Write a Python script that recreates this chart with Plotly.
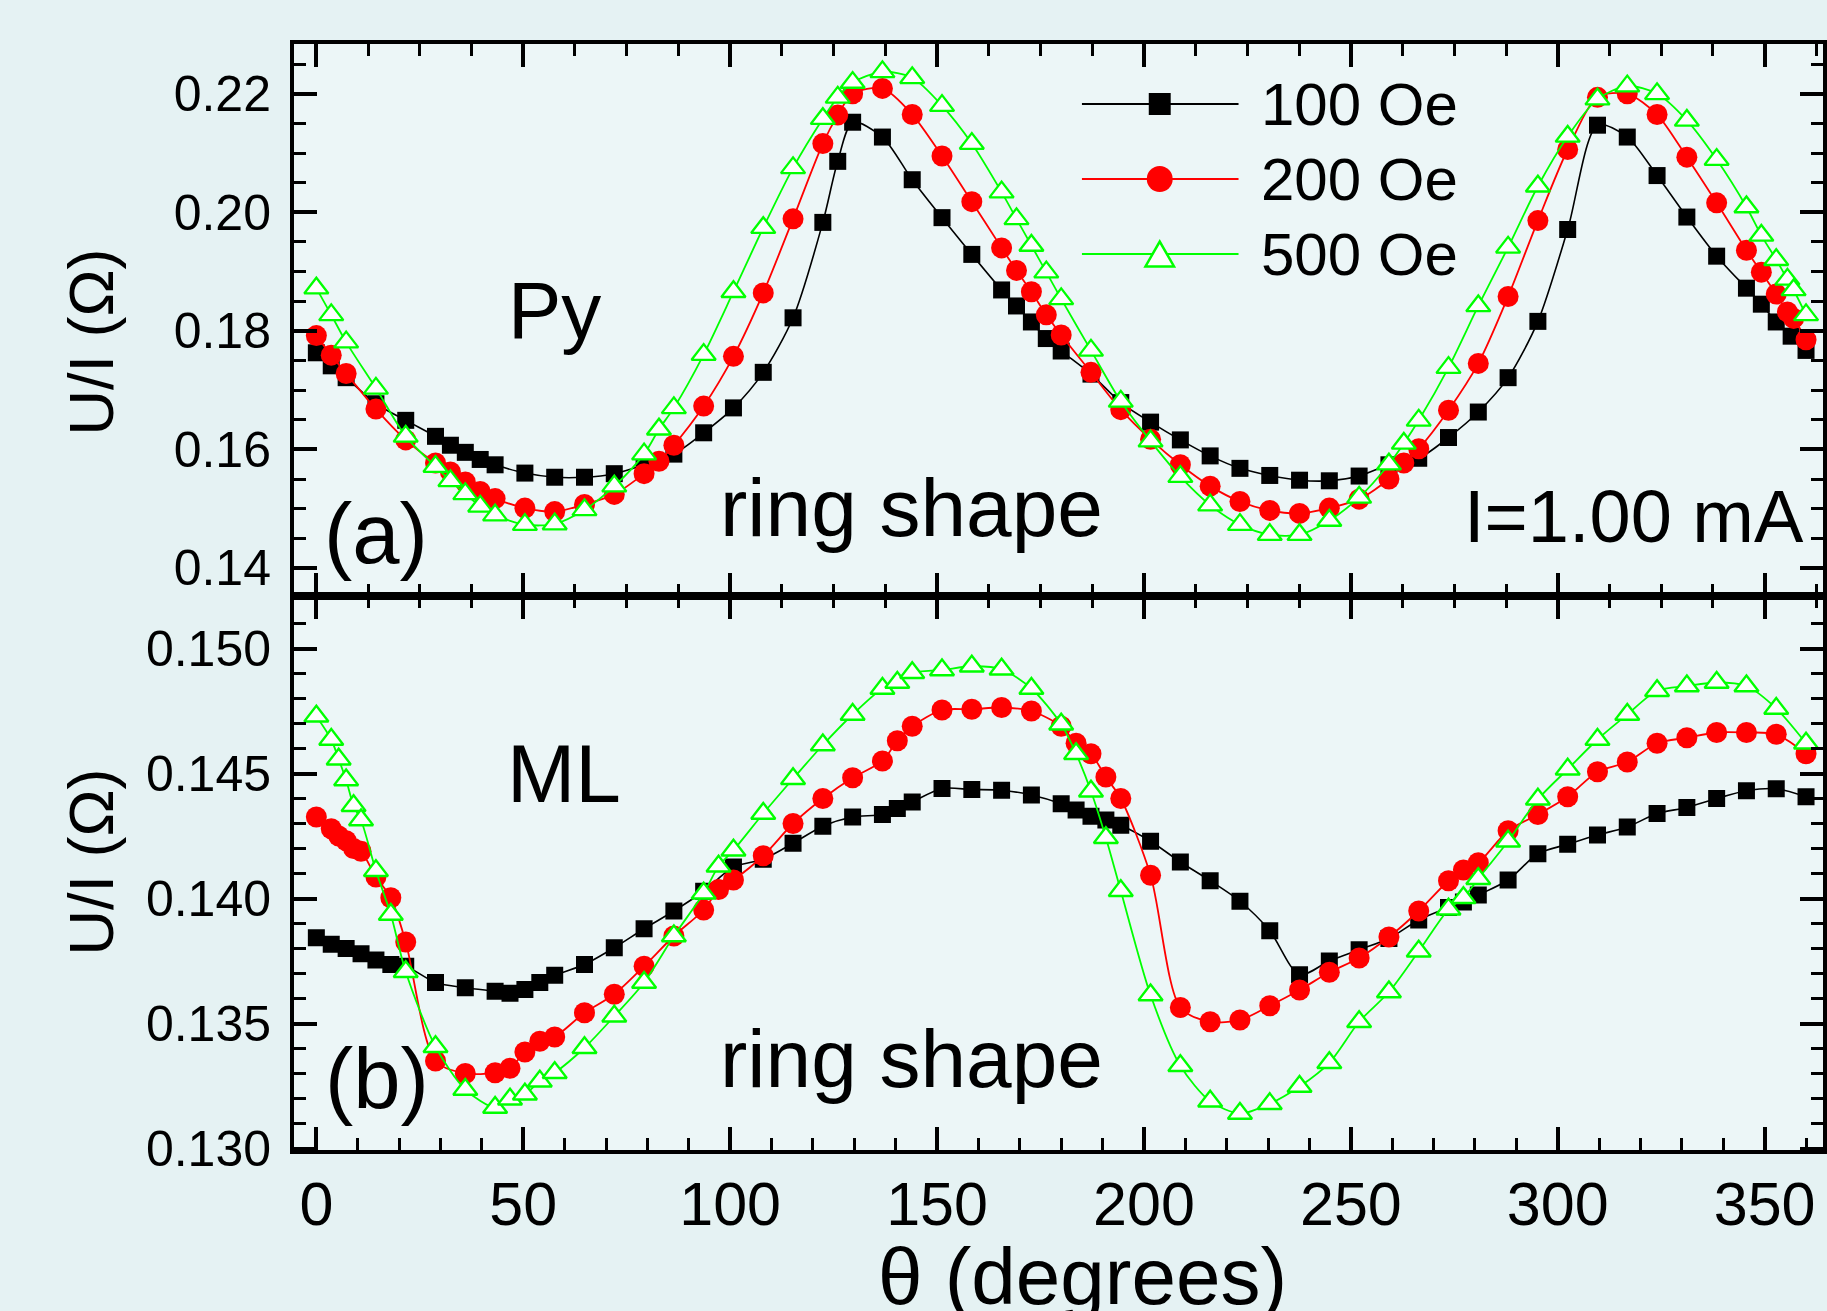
import plotly.graph_objects as go

# ---------------- data: U/I (Ohm) versus field angle theta (degrees) ----------------
# (a) Py ring
theta_py_100 = [0, 3.6, 7.2, 14.4, 21.6, 28.8, 32.4, 36, 39.6, 43.2,
                50.4, 57.6, 64.8, 72, 79.2, 86.4, 93.6, 100.8, 108, 115.2,
                122.4, 126, 129.6, 136.8, 144, 151.2, 158.4, 165.6, 169.2, 172.8,
                176.4, 180, 187.2, 194.4, 201.6, 208.8, 216, 223.2, 230.4, 237.6,
                244.8, 252, 259.2, 266.4, 273.6, 280.8, 288, 295.2, 302.4, 309.6,
                316.8, 324, 331.2, 338.4, 345.6, 349.2, 352.8, 356.4, 360]
ui_py_100 = [0.1763, 0.1741, 0.1721, 0.1677, 0.1649, 0.1622, 0.1607, 0.1595, 0.1583, 0.1574,
             0.1560, 0.1553, 0.1553, 0.1559, 0.1574, 0.1592, 0.1628, 0.1670, 0.1730, 0.1822,
             0.1983, 0.2086, 0.2152, 0.2127, 0.2055, 0.1991, 0.1929, 0.1869, 0.1842, 0.1815,
             0.1787, 0.1766, 0.1727, 0.1679, 0.1646, 0.1616, 0.1589, 0.1568, 0.1556, 0.1548,
             0.1547, 0.1555, 0.1574, 0.1585, 0.1620, 0.1663, 0.1721, 0.1816, 0.1971, 0.2147,
             0.2127, 0.2062, 0.1992, 0.1926, 0.1872, 0.1845, 0.1815, 0.1791, 0.1767]

theta_py_hi = [0, 3.6, 7.2, 14.4, 21.6, 28.8, 32.4, 36, 39.6, 43.2,
               50.4, 57.6, 64.8, 72, 79.2, 82.8, 86.4, 93.6, 100.8, 108,
               115.2, 122.4, 126, 129.6, 136.8, 144, 151.2, 158.4, 165.6, 169.2,
               172.8, 176.4, 180, 187.2, 194.4, 201.6, 208.8, 216, 223.2, 230.4,
               237.6, 244.8, 252, 259.2, 262.8, 266.4, 273.6, 280.8, 288, 295.2,
               302.4, 309.6, 316.8, 324, 331.2, 338.4, 345.6, 349.2, 352.8, 355.5,
               357, 360]
ui_py_200 = [0.1792, 0.1759, 0.1728, 0.1668, 0.1616, 0.1577, 0.1562, 0.1545, 0.1529, 0.1517,
             0.1501, 0.1495, 0.1507, 0.1524, 0.1559, 0.1580, 0.1607, 0.1673, 0.1757, 0.1864,
             0.1989, 0.2116, 0.2164, 0.2200, 0.2209, 0.2165, 0.2095, 0.2018, 0.1940, 0.1902,
             0.1866, 0.1827, 0.1793, 0.1730, 0.1667, 0.1617, 0.1574, 0.1538, 0.1512, 0.1497,
             0.1492, 0.1501, 0.1516, 0.1550, 0.1577, 0.1601, 0.1666, 0.1745, 0.1858, 0.1986,
             0.2106, 0.2194, 0.2200, 0.2165, 0.2093, 0.2016, 0.1936, 0.1899, 0.1862, 0.1832,
             0.1821, 0.1785]
ui_py_500 = [0.1872, 0.1827, 0.1781, 0.1703, 0.1622, 0.1571, 0.1547, 0.1525, 0.1504, 0.1489,
             0.1473, 0.1474, 0.1498, 0.1538, 0.1592, 0.1634, 0.1670, 0.1760, 0.1866, 0.1974,
             0.2075, 0.2158, 0.2194, 0.2219, 0.2237, 0.2227, 0.2180, 0.2116, 0.2034, 0.1989,
             0.1944, 0.1899, 0.1854, 0.1767, 0.1681, 0.1614, 0.1554, 0.1506, 0.1473, 0.1456,
             0.1456, 0.1480, 0.1519, 0.1575, 0.1610, 0.1649, 0.1738, 0.1842, 0.1941, 0.2044,
             0.2128, 0.2191, 0.2213, 0.2200, 0.2155, 0.2089, 0.2009, 0.1961, 0.1920, 0.1887,
             0.1869, 0.1827]

# (b) ML ring
theta_ml_100 = [0, 3.6, 7.2, 10.8, 14.4, 18, 21.6, 28.8, 36, 43.2,
                46.8, 50.4, 54, 57.6, 64.8, 72, 79.2, 86.4, 93.6, 100.8,
                108, 115.2, 122.4, 129.6, 136.8, 140.4, 144, 151.2, 158.4, 165.6,
                172.8, 180, 183.6, 187.2, 190.8, 194.4, 201.6, 208.8, 216, 223.2,
                230.4, 237.6, 244.8, 252, 259.2, 266.4, 273.6, 277.2, 280.8, 288,
                295.2, 302.4, 309.6, 316.8, 324, 331.2, 338.4, 345.6, 352.8, 360]
ui_ml_100 = [0.13843, 0.13817, 0.13800, 0.13779, 0.13754, 0.13736, 0.13729, 0.13664, 0.13643, 0.13629,
             0.13621, 0.13636, 0.13664, 0.13693, 0.13736, 0.13803, 0.13879, 0.13950, 0.14029, 0.14126,
             0.14157, 0.14221, 0.14289, 0.14326, 0.14336, 0.14360, 0.14386, 0.14440, 0.14436, 0.14433,
             0.14414, 0.14379, 0.14354, 0.14329, 0.14314, 0.14293, 0.14229, 0.14146, 0.14071, 0.13989,
             0.13871, 0.13695, 0.13750, 0.13795, 0.13840, 0.13914, 0.13964, 0.13986, 0.14014, 0.14074,
             0.14179, 0.14217, 0.14254, 0.14286, 0.14340, 0.14364, 0.14400, 0.14431, 0.14439, 0.14407]

theta_ml_hi = [0, 3.6, 5.4, 7.2, 9, 10.8, 14.4, 18, 21.6, 28.8,
               36, 43.2, 46.8, 50.4, 54, 57.6, 64.8, 72, 79.2, 86.4,
               93.6, 97.2, 100.8, 108, 115.2, 122.4, 129.6, 136.8, 140.4, 144,
               151.2, 158.4, 165.6, 172.8, 180, 183.6, 187.2, 190.8, 194.4, 201.6,
               208.8, 216, 223.2, 230.4, 237.6, 244.8, 252, 259.2, 266.4, 273.6,
               277.2, 280.8, 288, 295.2, 302.4, 309.6, 316.8, 324, 331.2, 338.4,
               345.6, 352.8, 360]
ui_ml_200 = [0.14326, 0.14279, 0.14250, 0.14231, 0.14200, 0.14189, 0.14086, 0.14003, 0.13826, 0.13350,
             0.13300, 0.13303, 0.13321, 0.13386, 0.13429, 0.13446, 0.13543, 0.13617, 0.13729, 0.13850,
             0.13954, 0.14036, 0.14074, 0.14171, 0.14300, 0.14400, 0.14483, 0.14550, 0.14631, 0.14689,
             0.14754, 0.14757, 0.14764, 0.14750, 0.14689, 0.14621, 0.14579, 0.14486, 0.14400, 0.14093,
             0.13564, 0.13507, 0.13514, 0.13571, 0.13634, 0.13705, 0.13762, 0.13846, 0.13950, 0.14071,
             0.14114, 0.14143, 0.14271, 0.14336, 0.14407, 0.14507, 0.14546, 0.14621, 0.14643, 0.14664,
             0.14664, 0.14657, 0.14579]
ui_ml_500 = [0.14729, 0.14636, 0.14557, 0.14474, 0.14371, 0.14314, 0.14111, 0.13936, 0.13707, 0.13407,
             0.13236, 0.13164, 0.13197, 0.13217, 0.13269, 0.13303, 0.13403, 0.13529, 0.13664, 0.13850,
             0.14021, 0.14129, 0.14193, 0.14340, 0.14479, 0.14614, 0.14736, 0.14840, 0.14864, 0.14903,
             0.14914, 0.14929, 0.14917, 0.14840, 0.14697, 0.14579, 0.14429, 0.14243, 0.14031, 0.13614,
             0.13331, 0.13189, 0.13140, 0.13179, 0.13248, 0.13343, 0.13507, 0.13626, 0.13789, 0.13957,
             0.14003, 0.14079, 0.14229, 0.14397, 0.14517, 0.14636, 0.14736, 0.14831, 0.14850, 0.14864,
             0.14850, 0.14760, 0.14621]

field_labels = ["100 Oe", "200 Oe", "500 Oe"]
x_ticks = [0, 50, 100, 150, 200, 250, 300, 350]

# ---------------- page geometry ----------------
W, H = 1827, 1311
ML, MR, MT, MB = 294, 0, 44, 161
SPLIT = 0.5009
FONT = "Arial, 'Liberation Sans', sans-serif"
BLACK, RED, GREEN = "#000000", "#FF0000", "#00FF00"


def px(x):
    return (x - ML) / (W - ML - MR)


def py(y):
    return (H - MB - y) / (H - MT - MB)


styles = [
    dict(line=BLACK, lw=1.6, marker=dict(symbol="square", size=17, color=BLACK)),
    dict(line=RED, lw=1.8, marker=dict(symbol="circle", size=21, color=RED)),
    dict(line=GREEN, lw=1.8, marker=dict(symbol="triangle-up", size=21, color="white",
                                        line=dict(color=GREEN, width=2.3))),
]

fig = go.Figure()

panels = [
    ("x2", "y2", [(theta_py_100, ui_py_100), (theta_py_hi, ui_py_200), (theta_py_hi, ui_py_500)]),
    ("x", "y", [(theta_ml_100, ui_ml_100), (theta_ml_hi, ui_ml_200), (theta_ml_hi, ui_ml_500)]),
]
for xa, ya, curves in panels:
    for (th, ui), st, name in zip(curves, styles, field_labels):
        fig.add_trace(go.Scatter(
            x=th, y=ui, xaxis=xa, yaxis=ya, name=name, showlegend=False,
            mode="lines+markers",
            line=dict(color=st["line"], width=st["lw"], shape="spline", smoothing=0.8),
            marker=st["marker"], cliponaxis=True,
        ))

# empty trace so the top edge axis of the lower panel gets its own subplot
fig.add_trace(go.Scatter(x=[], y=[], xaxis="x3", yaxis="y", showlegend=False))

XR = [-5.4, 364.1]
axis_common = dict(showline=True, linecolor=BLACK, linewidth=4, ticks="inside",
                   tickcolor=BLACK, tickwidth=3.5, ticklen=23, showgrid=False,
                   zeroline=False, tickfont=dict(family=FONT, size=50, color=BLACK))


def minor(step):
    return dict(dtick=step, ticks="inside", ticklen=12, tickwidth=3, tickcolor=BLACK, showgrid=False)


fig.update_layout(
    width=W, height=H,
    margin=dict(l=ML, r=MR, t=MT, b=MB, pad=0),
    paper_bgcolor="#E5F2F3",
    plot_bgcolor="#ECF6F7",
    showlegend=False,
    font=dict(family=FONT, color=BLACK),
    xaxis=dict(axis_common, domain=[0, 1], anchor="y", range=XR, tickmode="array",
               tickvals=x_ticks, ticktext=[str(v) for v in x_ticks],
               minor=minor(10), tickfont=dict(family=FONT, size=61, color=BLACK),
               ticklabelstandoff=-2),
    xaxis3=dict(axis_common, overlaying="x", anchor="y", side="top", range=XR,
                tick0=0, dtick=50, minor=minor(12.5), showticklabels=False),
    xaxis2=dict(axis_common, domain=[0, 1], anchor="y2", range=XR, tick0=0, dtick=50,
                minor=minor(12.5), mirror="ticks", showticklabels=False),
    yaxis=dict(axis_common, domain=[0, SPLIT], anchor="x", range=[0.12994, 0.15210],
               tick0=0.13, dtick=0.005, tickformat=".3f", minor=minor(0.001),
               mirror="ticks", ticklabelstandoff=9),
    yaxis2=dict(axis_common, domain=[SPLIT, 1], anchor="x2", range=[0.13526, 0.2284],
                tick0=0.14, dtick=0.02, tickformat=".2f", minor=minor(0.005),
                mirror="ticks", ticklabelstandoff=9),
)

# ---------------- text labels ----------------
def label(text, x, y, size, xanchor="center", angle=0):
    fig.add_annotation(text=text, x=px(x), y=py(y), xref="paper", yref="paper",
                       xanchor=xanchor, yanchor="middle", showarrow=False, textangle=angle,
                       font=dict(family=FONT, size=size, color=BLACK))


label("Py", 555, 311, 80)
label("(a)", 376, 533, 85)
label("ring shape", 913, 507, 82)
label("I=1.00 mA", 1638, 516, 74)
label("ML", 565, 773, 82)
label("(b)", 377, 1078, 85)
label("ring shape", 913, 1058, 82)
label("U/I (\u03a9)", 90, 342, 63, angle=-90)
label("U/I (\u03a9)", 90, 862, 63, angle=-90)
label("\u03b8 (degrees)", 1085, 1276, 80)

# ---------------- legend block ----------------
rows = [104, 179, 254]
for row, st, name in zip(rows, styles, field_labels):
    fig.add_shape(type="line", xref="paper", yref="paper",
                  x0=px(1084), x1=px(1241), y0=py(row), y1=py(row),
                  line=dict(color=st["line"], width=2))
    label(name, 1262, row, 60, xanchor="left")

cx = 1162
fig.add_shape(type="rect", xref="paper", yref="paper",
              x0=px(cx - 11), x1=px(cx + 11), y0=py(rows[0] + 11), y1=py(rows[0] - 11),
              fillcolor=BLACK, line=dict(width=0))
fig.add_shape(type="circle", xref="paper", yref="paper",
              x0=px(cx - 13), x1=px(cx + 13), y0=py(rows[1] + 13), y1=py(rows[1] - 13),
              fillcolor=RED, line=dict(width=0))
tw, th_ = 28.6, 24.8
tri = "M {} {} L {} {} L {} {} Z".format(
    px(cx - tw / 2), py(rows[2] + th_ / 2),
    px(cx + tw / 2), py(rows[2] + th_ / 2),
    px(cx), py(rows[2] - th_ / 2))
fig.add_shape(type="path", xref="paper", yref="paper", path=tri,
              fillcolor="white", line=dict(color=GREEN, width=2.5))

fig.write_html("out.html")
